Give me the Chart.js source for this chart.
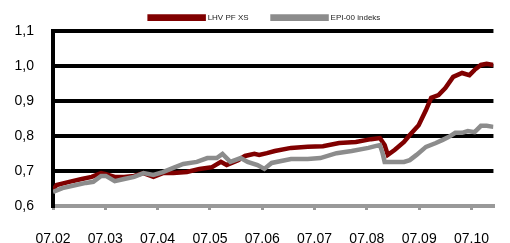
<!DOCTYPE html>
<html><head><meta charset="utf-8">
<script src="https://cdn.jsdelivr.net/npm/chart.js@4"></script>
<style>html,body{margin:0;padding:0;background:#fff}#w{width:510px;height:243px}</style>
</head><body><div id="w"><canvas id="c" width="510" height="243"></canvas></div>
<script>
// x in months since 2007-02 (0 = 07.02)
const seriesNames = ['LHV PF XS', 'EPI-00 indeks'];
const monthLabels = ['07.02','07.03','07.04','07.05','07.06','07.07','07.08','07.09','07.10'];
const yTicks = [0.6, 0.7, 0.8, 0.9, 1.0, 1.1];
const lhvX = [0.00,0.07,0.31,0.55,0.74,0.92,1.01,1.18,1.36,1.55,1.73,1.92,2.10,2.30,2.56,2.80,3.04,3.21,3.32,3.54,3.67,3.85,3.94,4.09,4.24,4.55,4.87,5.16,5.47,5.79,6.08,6.25,6.34,6.40,6.53,6.71,6.82,6.99,7.13,7.23,7.37,7.50,7.65,7.82,7.96,8.06,8.18,8.29,8.42];
const lhvY = [0.646,0.660,0.669,0.677,0.683,0.694,0.691,0.683,0.683,0.686,0.694,0.683,0.694,0.694,0.697,0.706,0.711,0.726,0.717,0.731,0.743,0.749,0.746,0.751,0.757,0.766,0.769,0.771,0.780,0.783,0.791,0.794,0.774,0.746,0.760,0.783,0.803,0.831,0.874,0.909,0.917,0.937,0.969,0.980,0.974,0.989,1.003,1.006,1.003];
const epiX = [0.00,0.18,0.44,0.63,0.77,0.92,1.01,1.18,1.36,1.55,1.73,1.92,2.10,2.30,2.49,2.75,2.95,3.13,3.24,3.39,3.59,3.72,3.91,4.04,4.18,4.55,4.87,5.11,5.42,5.71,6.03,6.16,6.25,6.30,6.34,6.53,6.71,6.82,6.95,7.13,7.32,7.45,7.56,7.69,7.82,7.93,8.06,8.18,8.29,8.42];
const epiY = [0.640,0.651,0.660,0.666,0.669,0.686,0.686,0.671,0.677,0.683,0.694,0.689,0.697,0.709,0.720,0.726,0.737,0.737,0.749,0.726,0.737,0.726,0.717,0.706,0.723,0.734,0.734,0.737,0.751,0.757,0.766,0.771,0.774,0.751,0.726,0.726,0.726,0.731,0.746,0.769,0.780,0.789,0.797,0.809,0.809,0.814,0.811,0.829,0.829,0.826];

const toPts = (xs, ys) => xs.map((x, i) => ({x: x, y: ys[i]}));
const FONT = "'Liberation Sans', Arial, sans-serif";

const legendFix = {
  id: 'legendFix',
  beforeLayout(chart) {
    const lg = chart.legend;
    if (lg && !lg._patched) {
      const f = lg.fit.bind(lg);
      lg.fit = function () { f(); this.height = 31; };
      const d = lg.draw.bind(lg);
      lg.draw = function () { const ctx = this.ctx; ctx.save(); ctx.translate(10, -10); d(); ctx.restore(); };
      lg._patched = true;
    }
  }
};

new Chart(document.getElementById('c'), {
  type: 'line',
  data: {
    datasets: [
      {label: seriesNames[0], data: toPts(lhvX, lhvY), order: 1, borderColor: '#800000', backgroundColor: '#800000', borderWidth: 4.5, pointRadius: 0, tension: 0},
      {label: seriesNames[1], data: toPts(epiX, epiY), order: 0, borderColor: '#8c8c8c', backgroundColor: '#8c8c8c', borderWidth: 4.5, pointRadius: 0, tension: 0}
    ]
  },
  plugins: [legendFix],
  options: {
    responsive: false,
    animation: false,
    layout: {padding: {left: 0, right: 0, top: 0, bottom: 0}},
    plugins: {
      tooltip: {enabled: false},
      legend: {
        display: true,
        position: 'top',
        labels: {boxWidth: 54, boxHeight: 3, padding: 24, color: '#222', font: {family: FONT, size: 8},
          sort: (a, b) => a.datasetIndex - b.datasetIndex}
      }
    },
    scales: {
      x: {
        type: 'linear', min: 0, max: 8.42,
        border: {display: true, color: '#999999', width: 4},
        grid: {drawOnChartArea: false, drawTicks: true, tickLength: 4, color: '#999999', lineWidth: 3},
        ticks: {stepSize: 1, includeBounds: false, autoSkip: false, maxRotation: 0, padding: 21, color: '#000', font: {family: FONT, size: 14},
          callback: v => Number.isInteger(v) && monthLabels[v] ? monthLabels[v] : ''},
        afterFit: s => { s.height = 37; }
      },
      y: {
        min: 0.6, max: 1.1,
        afterBuildTicks: s => { s.ticks = yTicks.map(v => ({value: v})); },
        border: {display: true, color: '#000', width: 4},
        grid: {drawTicks: false, lineWidth: 4, color: ctx => (ctx.tick && ctx.tick.value <= 0.6001) ? 'rgba(0,0,0,0)' : '#000'},
        ticks: {padding: 19, color: '#000', font: {family: FONT, size: 14}, callback: v => v.toFixed(1).replace('.', ',')},
        afterFit: s => { s.width = 53; }
      }
    }
  }
});
</script>
</body></html>
